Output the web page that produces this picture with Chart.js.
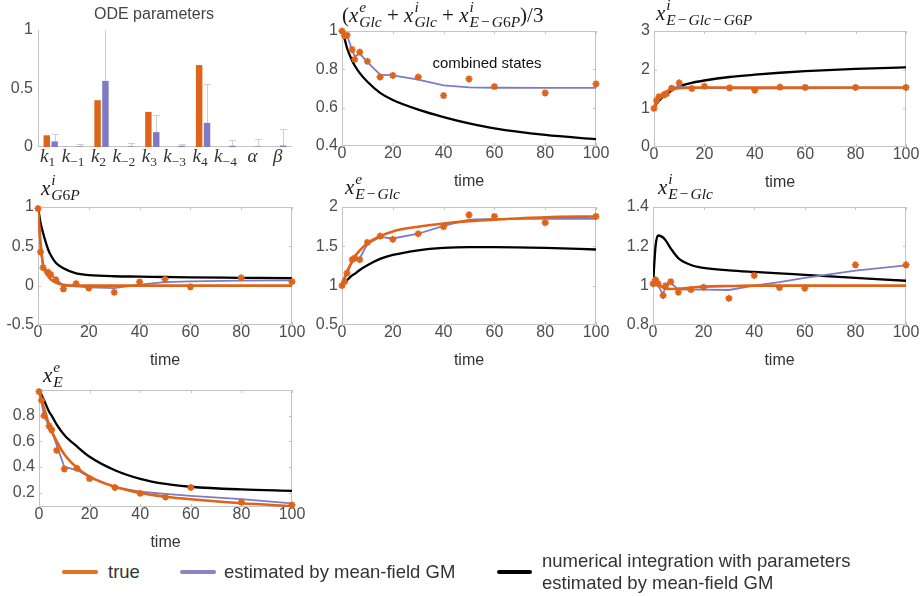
<!DOCTYPE html>
<html><head><meta charset="utf-8">
<script src="https://cdn.jsdelivr.net/npm/chart.js@4.4.1/dist/chart.umd.min.js"></script>
<style>
html,body{margin:0;padding:0;background:#fff;}
body{width:922px;height:596px;position:relative;overflow:hidden;font-family:'Liberation Sans',Arial,sans-serif;}
canvas{position:absolute;}
.math{position:absolute;font-family:'Liberation Serif','DejaVu Serif',serif;font-size:21px;color:#1a1a1a;white-space:nowrap;line-height:21px;z-index:2;}
.ss{display:inline-block;vertical-align:-5px;font-size:15.5px;line-height:15px;margin-left:1px;}
.ss > span{display:block;}
.m{margin:0 2px;}
.txt{position:absolute;white-space:nowrap;color:#333;z-index:2;}
.ctr{transform:translate(-50%,-50%);}
.lg{position:absolute;height:4px;border-radius:2px;}
</style></head><body>

<div class="txt ctr" style="left:154px;top:14px;font-size:16px;color:#444;">ODE parameters</div>
<div class="math" style="left:342px;top:-1px;">(<i>x</i><span class="ss"><span><i>e</i></span><span><i>Glc</i></span></span> + <i>x</i><span class="ss"><span><i>i</i></span><span><i>Glc</i></span></span> + <i>x</i><span class="ss"><span><i>i</i></span><span><i>E</i><span class="m">−</span><i>G</i>6<i>P</i></span></span>)/3</div>
<div class="math" style="left:656px;top:-3px;"><i>x</i><span class="ss"><span><i>i</i></span><span><i>E</i><span class="m">−</span><i>Glc</i><span class="m">−</span><i>G</i>6<i>P</i></span></span></div>
<div class="math" style="left:41px;top:172px;"><i>x</i><span class="ss"><span><i>i</i></span><span><i>G</i>6<i>P</i></span></span></div>
<div class="math" style="left:345px;top:171px;"><i>x</i><span class="ss"><span><i>e</i></span><span><i>E</i><span class="m">−</span><i>Glc</i></span></span></div>
<div class="math" style="left:658px;top:171px;"><i>x</i><span class="ss"><span><i>i</i></span><span><i>E</i><span class="m">−</span><i>Glc</i></span></span></div>
<div class="math" style="left:43px;top:359px;"><i>x</i><span class="ss"><span><i>e</i></span><span><i>E</i></span></span></div>
<div class="txt ctr" style="left:487px;top:62px;font-size:15px;color:#111;">combined states</div>

<div class="lg" style="left:62px;top:570px;width:36px;background:#E3701C;"></div>
<div class="txt" style="left:108px;top:561px;font-size:18.5px;line-height:22px;">true</div>
<div class="lg" style="left:180px;top:570px;width:36px;background:#8884C8;"></div>
<div class="txt" style="left:224px;top:561px;font-size:18.5px;line-height:22px;">estimated by mean-field GM</div>
<div class="lg" style="left:497px;top:570px;width:35px;background:#000;"></div>
<div class="txt" style="left:542px;top:550px;font-size:18.5px;line-height:22px;">numerical integration with parameters<br>estimated by mean-field GM</div>

<script>
// ---------------- data ----------------
const TIME = [0, 1, 2, 4, 5, 7, 10, 15, 20, 30, 40, 50, 60, 80, 100];
const X_TICKS = [0, 20, 40, 60, 80, 100];

// ODE parameters panel
const PARAM_BASE = ['k', 'k', 'k', 'k', 'k', 'k', 'k', 'k', 'α', 'β'];
const PARAM_SUB  = ['1', '−1', '2', '−2', '3', '−3', '4', '−4', '', ''];
const PARAM_TRUE = [0.10, 0, 0.40, 0, 0.30, 0, 0.70, 0, 0, 0];
const PARAM_EST  = [0.048, 0.005, 0.565, 0.005, 0.127, 0.01, 0.206, 0.01, 0.005, 0.012];
const PARAM_ERR_UPPER = [0.11, 0.025, 1.05, 0.034, 0.27, 0.025, 0.54, 0.062, 0.07, 0.152];
const P1_YTICKS = [0, 0.5, 1];

// combined states
const OBS_COMB = [1.0, 0.975, 0.978, 0.903, 0.852, 0.89, 0.842, 0.76, 0.768, 0.76, 0.663, 0.75, 0.71, 0.677, 0.724];
const EST_COMB = [1.0, 0.972, 0.978, 0.90, 0.868, 0.882, 0.838, 0.772, 0.768, 0.746, 0.716, 0.706, 0.704, 0.703, 0.703];
const NUM_COMB = [1.0, 0.96, 0.91, 0.845, 0.82, 0.78, 0.735, 0.677, 0.64, 0.59, 0.551, 0.518, 0.492, 0.458, 0.436];
const COMB_YTICKS = [0.4, 0.6, 0.8, 1];

// x^i_{E-Glc-G6P}
const OBS_EGG = [1.0, 1.2, 1.3, 1.35, 1.38, 1.52, 1.66, 1.51, 1.57, 1.53, 1.47, 1.55, 1.54, 1.54, 1.54];
const TRUE_EGG = [1.0, 1.15, 1.26, 1.40, 1.44, 1.49, 1.52, 1.535, 1.54, 1.54, 1.54, 1.54, 1.54, 1.54, 1.54];
const EST_EGG = [1.0, 1.17, 1.27, 1.38, 1.42, 1.52, 1.57, 1.53, 1.53, 1.52, 1.51, 1.52, 1.52, 1.53, 1.53];
const NUM_EGG = [1.0, 1.12, 1.20, 1.32, 1.37, 1.46, 1.57, 1.66, 1.72, 1.81, 1.87, 1.92, 1.96, 2.02, 2.06];
const EGG_YTICKS = [0, 1, 2, 3];

// x^i_{G6P}
const OBS_G6P = [0.98, 0.43, 0.23, 0.17, 0.14, 0.076, -0.04, 0.025, -0.03, -0.085, 0.047, 0.08, -0.015, 0.1, 0.05];
const TRUE_G6P = [1.0, 0.55, 0.27, 0.12, 0.08, 0.04, 0.01, 0.002, 0, 0, 0, 0, 0, 0, 0];
const EST_G6P = [1.0, 0.45, 0.25, 0.17, 0.14, 0.085, 0.0, -0.01, -0.02, -0.03, 0.013, 0.045, 0.055, 0.064, 0.069];
const NUM_G6P = [1.0, 0.80, 0.67, 0.46, 0.39, 0.29, 0.22, 0.155, 0.135, 0.12, 0.115, 0.11, 0.105, 0.10, 0.095];
const G6P_YTICKS = [-0.5, 0, 0.5, 1];

// x^e_{E-Glc}
const OBS_EEG = [1.0, 1.05, 1.16, 1.33, 1.35, 1.33, 1.55, 1.63, 1.59, 1.66, 1.75, 1.90, 1.88, 1.80, 1.88];
const TRUE_EEG = [1.0, 1.10, 1.18, 1.31, 1.37, 1.45, 1.54, 1.63, 1.69, 1.75, 1.79, 1.82, 1.84, 1.87, 1.88];
const EST_EEG = [1.0, 1.07, 1.16, 1.31, 1.34, 1.35, 1.53, 1.62, 1.60, 1.66, 1.76, 1.84, 1.85, 1.85, 1.85];
const NUM_EEG = [1.0, 1.04, 1.07, 1.13, 1.15, 1.20, 1.26, 1.34, 1.39, 1.45, 1.48, 1.49, 1.49, 1.48, 1.46];
const EEG_YTICKS = [0.5, 1, 1.5, 2];

// x^i_{E-Glc}
const OBS_IEG = [1.01, 1.03, 1.01, 0.95, 1.0, 1.02, 0.967, 0.98, 0.992, 0.936, 1.052, 0.99, 0.987, 1.106, 1.106];
const TRUE_IEG = [1.0, 1.025, 1.01, 0.99, 0.985, 0.983, 0.985, 0.99, 0.995, 0.998, 1.0, 1.0, 1.0, 1.0, 1.0];
const EST_IEG = [1.01, 1.025, 1.0, 0.955, 1.0, 1.015, 0.98, 0.98, 0.98, 0.978, 1.0, 1.018, 1.04, 1.076, 1.103];
const NUM_IEG = [1.0, 1.20, 1.255, 1.245, 1.23, 1.19, 1.14, 1.105, 1.09, 1.078, 1.07, 1.063, 1.055, 1.04, 1.025];
const IEG_YTICKS = [0.8, 1, 1.2, 1.4];

// x^e_E
const OBS_EE = [0.987, 0.92, 0.80, 0.72, 0.69, 0.53, 0.385, 0.39, 0.31, 0.24, 0.195, 0.166, 0.24, 0.125, 0.104];
const TRUE_EE = [1.0, 0.93, 0.86, 0.73, 0.68, 0.60, 0.50, 0.395, 0.325, 0.245, 0.197, 0.168, 0.148, 0.117, 0.095];
const EST_EE = [0.98, 0.90, 0.80, 0.72, 0.68, 0.57, 0.40, 0.376, 0.32, 0.242, 0.207, 0.19, 0.174, 0.15, 0.117];
const NUM_EE = [1.0, 0.96, 0.92, 0.83, 0.80, 0.73, 0.65, 0.56, 0.48, 0.375, 0.308, 0.268, 0.246, 0.225, 0.214];
const EE_YTICKS = [0.2, 0.4, 0.6, 0.8];

// ---------------- styles ----------------
const ORANGE = '#DF6318', BLUE = '#7E7AC6', BLACK = '#000000';
const FRAME = '#c4c4c4', TICK_COLOR = '#4d4d4d';
const SANS = "'Liberation Sans', Arial, sans-serif";

const framePlugin = {
  id: 'frame',
  beforeDatasetsDraw(chart, args, opts) {
    const {ctx, chartArea: a} = chart;
    ctx.save();
    ctx.strokeStyle = FRAME; ctx.lineWidth = 1;
    ctx.beginPath();
    if (opts.box) {
      ctx.rect(a.left + 0.5, a.top + 0.5, a.right - a.left - 1, a.bottom - a.top - 1);
      const xs = chart.scales.x, ys = chart.scales.y;
      xs.ticks.forEach(t => {
        const px = Math.round(xs.getPixelForValue(t.value)) + 0.5;
        ctx.moveTo(px, a.bottom); ctx.lineTo(px, a.bottom - 3);
        ctx.moveTo(px, a.top); ctx.lineTo(px, a.top + 3);
      });
      ys.ticks.forEach(t => {
        const py = Math.round(ys.getPixelForValue(t.value)) + 0.5;
        ctx.moveTo(a.left, py); ctx.lineTo(a.left + 3, py);
        ctx.moveTo(a.right, py); ctx.lineTo(a.right - 3, py);
      });
    } else {
      ctx.moveTo(a.left + 0.5, a.top); ctx.lineTo(a.left + 0.5, a.bottom);
      ctx.moveTo(a.left, a.bottom - 0.5); ctx.lineTo(a.right, a.bottom - 0.5);
    }
    ctx.stroke();
    ctx.restore();
  }
};

const errorBarPlugin = {
  id: 'errbars',
  beforeDatasetsDraw(chart, args, opts) {
    if (!opts.upper) return;
    const {ctx, chartArea: a} = chart;
    const ys = chart.scales.y;
    const meta = chart.getDatasetMeta(1);
    ctx.save();
    ctx.beginPath(); ctx.rect(a.left, a.top, a.right - a.left, a.bottom - a.top); ctx.clip();
    ctx.strokeStyle = '#cfcfcf'; ctx.lineWidth = 1;
    opts.upper.forEach((u, i) => {
      const bar = meta.data[i];
      const x = Math.round(bar.x) + 0.5;
      const yTop = ys.getPixelForValue(u);
      const yLow = ys.getPixelForValue(Math.max(0, 2 * opts.mid[i] - u));
      ctx.beginPath();
      ctx.moveTo(x, yLow); ctx.lineTo(x, yTop);
      ctx.moveTo(x - 3.5, Math.round(yTop) + 0.5); ctx.lineTo(x + 3.5, Math.round(yTop) + 0.5);
      ctx.stroke();
    });
    ctx.restore();
  }
};

const catLabelPlugin = {
  id: 'catLabels',
  afterDraw(chart, args, opts) {
    if (!opts.base) return;
    const {ctx, chartArea: a} = chart;
    const xs = chart.scales.x;
    ctx.save();
    ctx.fillStyle = '#333';
    ctx.textBaseline = 'alphabetic';
    opts.base.forEach((b, i) => {
      const x = xs.getPixelForValue(i);
      const sub = opts.sub[i];
      ctx.font = "italic 19px 'Liberation Serif', serif";
      const w1 = ctx.measureText(b).width;
      ctx.font = "13.5px 'Liberation Serif', serif";
      const w2 = sub ? ctx.measureText(sub).width : 0;
      const x0 = x - (w1 + w2) / 2 - (sub ? 3 : 1.5);
      const y = a.bottom + 15;
      ctx.font = "italic 19px 'Liberation Serif', serif";
      ctx.fillText(b, x0, y);
      if (sub) { ctx.font = "13.5px 'Liberation Serif', serif"; ctx.fillText(sub, x0 + w1, y + 4); }
    });
    ctx.restore();
  }
};

function makeCanvas(L, T, R, B, pad) {
  const c = document.createElement('canvas');
  const W = R - L + pad.l + pad.r, H = B - T + pad.t + pad.b;
  c.width = W; c.height = H;
  c.style.left = (L - pad.l) + 'px'; c.style.top = (T - pad.t) + 'px';
  c.style.width = W + 'px'; c.style.height = H + 'px';
  document.body.appendChild(c);
  return c;
}

const fmt = v => String(+Number(v).toFixed(2));
const pts = arr => TIME.map((t, i) => ({x: t, y: arr[i]}));

function linePanel(rect, yMin, yMax, yTicks, obs, truth, est, num) {
  const [L, T, R, B] = rect;
  const pad = {l: 50, t: 12, r: 16, b: 44};
  const c = makeCanvas(L, T, R, B, pad);
  const datasets = [
    {label: 'data', data: pts(obs), showLine: false, pointStyle: 'star', pointRadius: 3.5,
     pointBorderColor: ORANGE, pointBackgroundColor: ORANGE, pointBorderWidth: 1.8, clip: false, order: 0}
  ];
  if (truth) datasets.push({label: 'true', data: pts(truth), borderColor: ORANGE, borderWidth: 2.6,
     pointRadius: 0, cubicInterpolationMode: 'monotone', order: 1});
  datasets.push({label: 'estimated by mean-field GM', data: pts(est), borderColor: BLUE, borderWidth: 1.8,
     pointRadius: 0, tension: 0, order: 2});
  datasets.push({label: 'numerical integration', data: pts(num), borderColor: BLACK, borderWidth: 2.3,
     pointRadius: 0, cubicInterpolationMode: 'monotone', order: 3});
  return new Chart(c, {
    type: 'line',
    data: {datasets},
    options: {
      responsive: false, animation: false, devicePixelRatio: 1,
      layout: {padding: {left: 0, top: pad.t, right: pad.r, bottom: 0}},
      plugins: {legend: {display: false}, tooltip: {enabled: false}, frame: {box: true}},
      scales: {
        x: {type: 'linear', min: 0, max: 100,
            afterBuildTicks: s => { s.ticks = X_TICKS.map(v => ({value: v})); },
            afterFit: s => { s.height = pad.b; },
            grid: {display: false, drawTicks: false}, border: {display: false},
            ticks: {font: {family: SANS, size: 16, lineHeight: 1}, color: TICK_COLOR, padding: 0,
                    maxRotation: 0, autoSkip: false, callback: fmt},
            title: {display: true, text: 'time', font: {family: SANS, size: 16, lineHeight: 1},
                    color: '#333', padding: {top: 0, bottom: 0}}},
        y: {type: 'linear', min: yMin, max: yMax,
            afterBuildTicks: s => { s.ticks = yTicks.map(v => ({value: v})); },
            afterFit: s => { s.width = pad.l; },
            grid: {display: false, drawTicks: false}, border: {display: false},
            ticks: {font: {family: SANS, size: 16, lineHeight: 1}, color: TICK_COLOR, padding: 4,
                    autoSkip: false, callback: fmt}}
      }
    },
    plugins: [framePlugin]
  });
}

// ---------------- panel 1: bars ----------------
(function () {
  const L = 38, T = 29, R = 292, B = 147;
  const pad = {l: 50, t: 12, r: 16, b: 28};
  const c = makeCanvas(L, T, R, B, pad);
  new Chart(c, {
    type: 'bar',
    data: {
      labels: PARAM_BASE.map((b, i) => b + PARAM_SUB[i]),
      datasets: [
        {label: 'true', data: PARAM_TRUE, backgroundColor: ORANGE, categoryPercentage: 0.62, barPercentage: 0.82},
        {label: 'estimated', data: PARAM_EST, backgroundColor: BLUE, categoryPercentage: 0.62, barPercentage: 0.82}
      ]
    },
    options: {
      responsive: false, animation: false, devicePixelRatio: 1,
      layout: {padding: {left: 0, top: pad.t, right: pad.r, bottom: 0}},
      plugins: {legend: {display: false}, tooltip: {enabled: false}, frame: {box: false},
                errbars: {upper: PARAM_ERR_UPPER, mid: PARAM_EST},
                catLabels: {base: PARAM_BASE, sub: PARAM_SUB}},
      scales: {
        x: {afterFit: s => { s.height = pad.b; }, grid: {display: false, drawTicks: false},
            border: {display: false}, ticks: {display: false}},
        y: {min: 0, max: 1,
            afterBuildTicks: s => { s.ticks = P1_YTICKS.map(v => ({value: v})); },
            afterFit: s => { s.width = pad.l; },
            grid: {display: false, drawTicks: false}, border: {display: false},
            ticks: {font: {family: SANS, size: 16, lineHeight: 1}, color: TICK_COLOR, padding: 5, callback: fmt}}
      }
    },
    plugins: [framePlugin, errorBarPlugin, catLabelPlugin]
  });
})();

linePanel([342, 31, 596, 146], 0.4, 1, COMB_YTICKS, OBS_COMB, null, EST_COMB, NUM_COMB);
linePanel([654, 31, 906, 147], 0, 3, EGG_YTICKS, OBS_EGG, TRUE_EGG, EST_EGG, NUM_EGG);
linePanel([38, 207, 292, 325], -0.5, 1, G6P_YTICKS, OBS_G6P, TRUE_G6P, EST_G6P, NUM_G6P);
linePanel([342, 207, 596, 325], 0.5, 2, EEG_YTICKS, OBS_EEG, TRUE_EEG, EST_EEG, NUM_EEG);
linePanel([653, 207, 906, 325], 0.8, 1.4, IEG_YTICKS, OBS_IEG, TRUE_IEG, EST_IEG, NUM_IEG);
linePanel([39, 390, 292, 507], 0.088, 1.0, EE_YTICKS, OBS_EE, TRUE_EE, EST_EE, NUM_EE);
</script>
</body></html>
